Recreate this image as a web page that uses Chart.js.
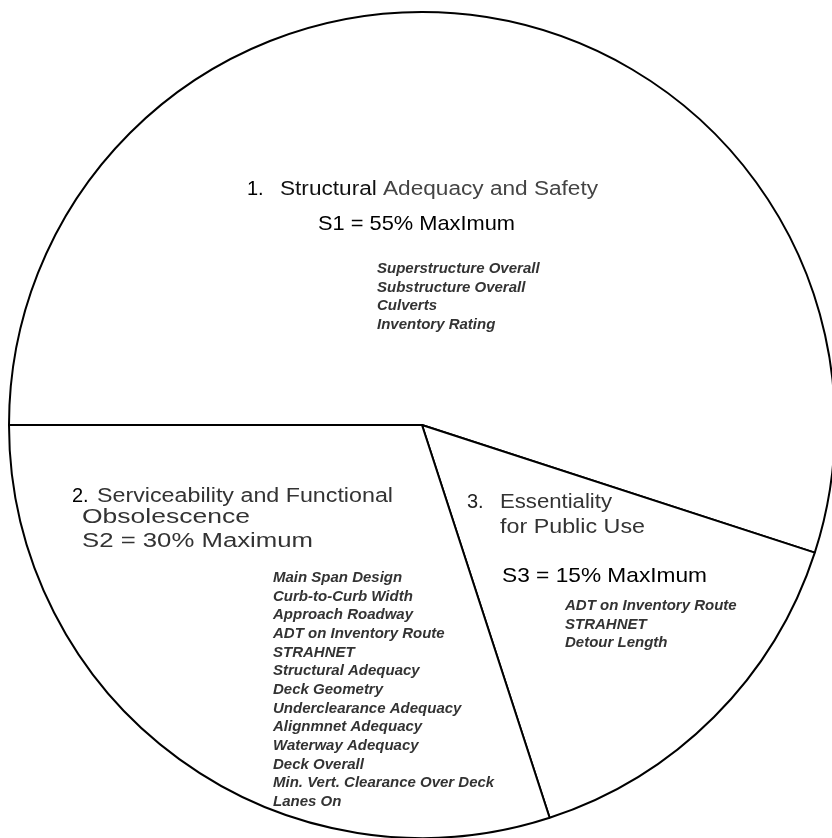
<!DOCTYPE html>
<html lang="en">
<head>
  <meta charset="UTF-8">
  <title>Sufficiency Rating</title>
  <script src="https://cdn.jsdelivr.net/npm/chart.js"></script>
  <style>
    html, body { margin: 0; padding: 0; background: #fff; overflow: hidden; }
    #wrap { position: absolute; left: 8px; top: 11px; width: 828px; height: 828px; }
  </style>
</head>
<body>

<div id="wrap"><canvas id="chartSR"></canvas></div>

<script>
  // === Data (clockwise, starting at 9 o'clock) ===
  const categories = ["Structural Adequacy and Safety", "Essentiality for Public Use", "Serviceability and Functional Obsolescence"];
  const shares = [55, 15, 30];

  const itemsS1 = ["Superstructure Overall", "Substructure Overall", "Culverts", "Inventory Rating"];
  const itemsS2 = ["Main Span Design", "Curb-to-Curb Width", "Approach Roadway", "ADT on Inventory Route",
    "STRAHNET", "Structural Adequacy", "Deck Geometry", "Underclearance Adequacy", "Alignmnet Adequacy",
    "Waterway Adequacy", "Deck Overall", "Min. Vert. Clearance Over Deck", "Lanes On"];
  const itemsS3 = ["ADT on Inventory Route", "STRAHNET", "Detour Length"];

  const FONT = "'Liberation Sans', Arial, sans-serif";

  // === Text drawn inside the slices ===
  const sliceText = {
    id: "sliceText",
    afterDraw(chart) {
      const arc = chart.getDatasetMeta(0).data[0];
      const cx = arc.x, cy = arc.y;
      const ctx = chart.ctx;
      ctx.save();
      ctx.textBaseline = "alphabetic";
      ctx.textAlign = "left";

      const put = (txt, dx, dy, font, color) => {
        ctx.font = font;
        ctx.fillStyle = color;
        ctx.fillText(txt, cx + dx, cy + dy);
      };
      // heading text, stretched a bit sideways like the original artwork
      const putWide = (parts, dx, dy, font, width) => {
        ctx.font = font;
        const full = parts.map(p => p[0]).join("");
        const k = width / ctx.measureText(full).width;
        ctx.save();
        ctx.translate(cx + dx, cy + dy);
        ctx.scale(k, 1);
        let x = 0;
        parts.forEach(([t, c]) => {
          ctx.fillStyle = c;
          ctx.fillText(t, x, 0);
          x += ctx.measureText(t).width;
        });
        ctx.restore();
      };
      const head = "20px " + FONT;
      const sLine = "21px " + FONT;
      const list = "italic bold 15px " + FONT;

      // 1. Structural Adequacy and Safety
      put("1.", -175, -230, head, "#000");
      putWide([["Structural ", "#111"], ["Adequacy and Safety", "#444"]], -142, -230, head, 318);
      putWide([["S1 = 55% MaxImum", "#000"]], -104, -195, sLine, 197);
      itemsS1.forEach((s, i) => put(s, -45, -152 + i * 18.5, list, "#333"));

      // 2. Serviceability and Functional Obsolescence
      put("2.", -350, 77, head, "#000");
      putWide([["Serviceability and Functional", "#333"]], -325, 77, head, 296);
      putWide([["Obsolescence", "#333"]], -340, 98, head, 168);
      putWide([["S2 = 30% Maximum", "#333"]], -340, 122, head, 231);
      itemsS2.forEach((s, i) => put(s, -149, 157 + i * 18.67, list, "#333"));

      // 3. Essentiality for Public Use
      put("3.", 45, 83, head, "#222");
      putWide([["Essentiality", "#333"]], 78, 83, head, 112);
      putWide([["for Public Use", "#333"]], 78, 108, head, 145);
      putWide([["S3 = 15% MaxImum", "#000"]], 80, 157, sLine, 205);
      itemsS3.forEach((s, i) => put(s, 143, 185 + i * 18.5, list, "#333"));

      ctx.restore();
    }
  };

  new Chart(document.getElementById("chartSR"), {
    type: "pie",
    data: {
      labels: categories,
      datasets: [{
        data: shares,
        backgroundColor: "#fff",
        borderColor: "#000",
        borderWidth: 2,
        hoverOffset: 0
      }]
    },
    options: {
      responsive: true,
      maintainAspectRatio: false,
      animation: false,
      rotation: -90,
      layout: { padding: 0 },
      plugins: {
        legend: { display: false },
        tooltip: { enabled: false }
      }
    },
    plugins: [sliceText]
  });
</script>

</body>
</html>
